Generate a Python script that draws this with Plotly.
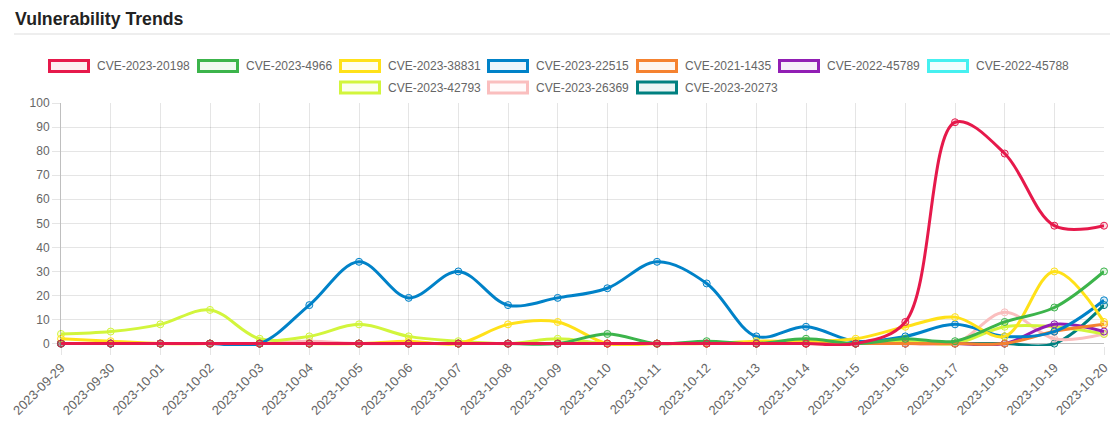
import plotly.graph_objects as go

dates = [
    "2023-09-29", "2023-09-30", "2023-10-01", "2023-10-02", "2023-10-03",
    "2023-10-04", "2023-10-05", "2023-10-06", "2023-10-07", "2023-10-08",
    "2023-10-09", "2023-10-10", "2023-10-11", "2023-10-12", "2023-10-13",
    "2023-10-14", "2023-10-15", "2023-10-16", "2023-10-17", "2023-10-18",
    "2023-10-19", "2023-10-20",
]

cve_names = [
    "CVE-2023-20198", "CVE-2023-4966", "CVE-2023-38831", "CVE-2023-22515",
    "CVE-2021-1435", "CVE-2022-45789", "CVE-2022-45788", "CVE-2023-42793",
    "CVE-2023-26369", "CVE-2023-20273",
]

# counts per day, one list per CVE
cve_2023_20198 = [0, 0, 0, 0, 0, 0, 0, 0, 0, 0, 0, 0, 0, 0, 0, 0, 0, 9, 92, 79, 49, 49]
cve_2023_4966 = [0, 0, 0, 0, 0, 0, 0, 0, 0, 0, 0, 4, 0, 1, 0, 2, 0, 2, 1, 9, 15, 30]
cve_2023_38831 = [2, 1, 0, 0, 0, 0, 0, 1, 0, 8, 9, 0, 0, 0, 1, 1, 2, 7, 11, 3, 30, 9]
cve_2023_22515 = [0, 0, 0, 0, 0, 16, 34, 19, 30, 16, 19, 23, 34, 25, 3, 7, 1, 3, 8, 3, 5, 18]
cve_2021_1435 = [0, 0, 0, 0, 0, 0, 0, 0, 0, 0, 0, 0, 0, 0, 0, 0, 0, 0, 0, 0, 5, 8]
cve_2022_45789 = [0, 0, 0, 0, 0, 0, 0, 0, 0, 0, 0, 0, 0, 0, 0, 0, 0, 0, 0, 0, 8, 5]
cve_2022_45788 = [None] * len(dates)  # listed in the legend, no points drawn
cve_2023_42793 = [4, 5, 8, 14, 2, 3, 8, 3, 1, 0, 2, 0, 0, 0, 0, 0, 0, 1, 0, 7, 7, 4]
cve_2023_26369 = [0, 0, 0, 0, 0, 1, 0, 0, 0, 0, 0, 0, 0, 0, 0, 0, 0, 0, 0, 13, 2, 4]
cve_2023_20273 = [0, 0, 0, 0, 0, 0, 0, 0, 0, 0, 0, 0, 0, 0, 0, 0, 0, 0, 0, 0, 0, 16]

series = [
    cve_2023_20198, cve_2023_4966, cve_2023_38831, cve_2023_22515, cve_2021_1435,
    cve_2022_45789, cve_2022_45788, cve_2023_42793, cve_2023_26369, cve_2023_20273,
]

colors = [
    (230, 25, 75), (60, 180, 75), (255, 225, 25), (0, 130, 200), (245, 130, 48),
    (145, 30, 180), (70, 240, 240), (210, 245, 60), (250, 190, 190), (0, 128, 128),
]

# the page body adds an 8px margin on every side: keep the figure inside
# the window and work in page pixels
OFF = 8
W, H = 1118 - 2 * OFF, 428 - 2 * OFF
L, T = 61 - OFF, 103 - OFF
R = (1118 - 1104) - OFF
B = (428 - 346) - OFF
PW, PH = W - L - R, H - T - B


def px(x):
    return (x - OFF - L) / PW


def py(y):
    return (H - B - (y - OFF)) / PH


def rgb(c, a=None):
    if a is None:
        return "rgb(%d,%d,%d)" % c
    return "rgba(%d,%d,%d,%s)" % (c + (a,))


fig = go.Figure()

# chart.js draws the first dataset on top, so add them backwards
for name, vals, c in reversed(list(zip(cve_names, series, colors))):
    fig.add_trace(go.Scatter(
        x=dates, y=vals, name=name, mode="lines",
        line=dict(color=rgb(c), width=3, shape="spline", smoothing=1.0),
        hoverinfo="skip", showlegend=False,
    ))
    fig.add_trace(go.Scatter(
        x=dates, y=vals, name=name, mode="markers", cliponaxis=False,
        marker=dict(size=7, color=rgb(c, 0.15), line=dict(color=rgb(c), width=1)),
        showlegend=False,
    ))

# legend drawn by hand so each row is centred like chart.js
legend_rows = [
    (66, [48, 197, 339, 487, 636, 778, 927]),
    (87.5, [339, 487, 636]),
]
shapes = []
annotations = []
i = 0
for yc, xs in legend_rows:
    for x0 in xs:
        c = colors[i]
        shapes.append(dict(
            type="rect", xref="paper", yref="paper",
            x0=px(x0 + 1.5), x1=px(x0 + 40.5), y0=py(yc - 5.5), y1=py(yc + 5.5),
            line=dict(color=rgb(c), width=3), fillcolor=rgb(c, 0.08),
        ))
        annotations.append(dict(
            xref="paper", yref="paper", x=px(x0 + 47), y=py(yc),
            xanchor="left", yanchor="middle", showarrow=False,
            text=cve_names[i], font=dict(size=12, color="#666"),
        ))
        i += 1

# page heading and rule above the chart
annotations.append(dict(
    xref="paper", yref="paper", x=px(13), y=py(19),
    xanchor="left", yanchor="middle", showarrow=False,
    text="<b>Vulnerability Trends</b>", font=dict(size=17.7, color="#222"),
))
shapes.append(dict(
    type="line", xref="paper", yref="paper",
    x0=px(14), x1=px(1110), y0=py(34), y1=py(34),
    line=dict(color="#dddddd", width=1),
))

fig.update_layout(
    width=W, height=H,
    margin=dict(l=L, r=R, t=T, b=B),
    paper_bgcolor="white", plot_bgcolor="white",
    font=dict(family="Liberation Sans, Arial, sans-serif", size=12, color="#666"),
    shapes=shapes, annotations=annotations,
    showlegend=False,
)
fig.update_xaxes(
    type="category", range=[0, len(dates) - 1],
    tickmode="array", tickvals=dates, ticktext=dates, tickangle=-45,
    showgrid=True, gridcolor="rgba(0,0,0,0.1)", gridwidth=1,
    ticks="outside", ticklen=8, tickcolor="rgba(0,0,0,0.1)",
    showline=False, zeroline=False, automargin=False,
    tickfont=dict(size=13, color="#666"),
)
fig.update_yaxes(
    range=[-1, 100], tickmode="array", tickvals=list(range(0, 101, 10)),
    showgrid=True, gridcolor="rgba(0,0,0,0.1)", gridwidth=1,
    ticks="outside", ticklen=8, tickcolor="rgba(0,0,0,0.1)",
    showline=True, linecolor="rgba(0,0,0,0.25)", linewidth=1,
    zeroline=True, zerolinecolor="rgba(0,0,0,0.25)", zerolinewidth=1,
    automargin=False,
    tickfont=dict(size=12, color="#666"),
)

fig.write_html("out.html")
